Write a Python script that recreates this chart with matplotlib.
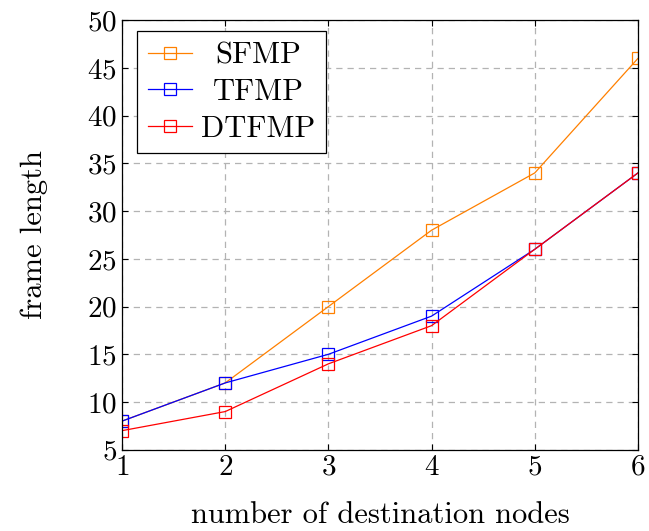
import matplotlib

matplotlib.use("Agg")
import matplotlib.pyplot as plt

plt.rcParams["font.family"] = ["cmr10", "DejaVu Serif"]
plt.rcParams["mathtext.fontset"] = "cm"
plt.rcParams["axes.formatter.use_mathtext"] = True

NODES = [1, 2, 3, 4, 5, 6]
SFMP = [8, 12, 20, 28, 34, 46]
TFMP = [8, 12, 15, 19, 26, 34]
DTFMP = [7, 9, 14, 18, 26, 34]

SERIES = [("SFMP", SFMP, (1.0, 0.5, 0.0)), ("TFMP", TFMP, "blue"), ("DTFMP", DTFMP, "red")]

fig = plt.figure(figsize=(6.49, 5.31), dpi=100)
ax = fig.add_axes([0.188, 0.153, 0.795, 0.809])

for name, vals, color in SERIES:
    ax.plot(NODES, vals, color=color, lw=0.9, marker="s", ms=9, mfc="none",
            mec=color, mew=0.9, label=name)

ax.set_xlim(1, 6)
ax.set_ylim(5, 50)
ax.set_xticks(NODES)
ax.set_yticks(range(5, 51, 5))
ax.grid(True, color="#b3b3b3", ls=(0, (5, 4)), lw=0.9)
ax.tick_params(direction="in", labelsize=21, length=4, top=True, right=True)
for s in ax.spines.values():
    s.set_linewidth(0.9)
ax.set_xlabel("number of destination nodes", fontsize=22, labelpad=15)
ax.set_ylabel("frame length", fontsize=22, labelpad=28)

leg = ax.legend(loc="upper left", bbox_to_anchor=(0.0, 1.01), fontsize=22,
                fancybox=False, framealpha=1, edgecolor="black",
                handlelength=1.45, borderpad=0.35, labelspacing=0.3,
                handletextpad=0.3, borderaxespad=0.5)
leg.get_frame().set_linewidth(0.9)

# pgfplots centres the legend entries; shift the shorter labels to match
fig.canvas.draw()
renderer = fig.canvas.get_renderer()
texts = leg.get_texts()
widths = [t.get_window_extent(renderer).width for t in texts]
for t, w in zip(texts, widths):
    t.set_position(((max(widths) - w) / 2, 0))

fig.savefig("out.png", dpi=100)
